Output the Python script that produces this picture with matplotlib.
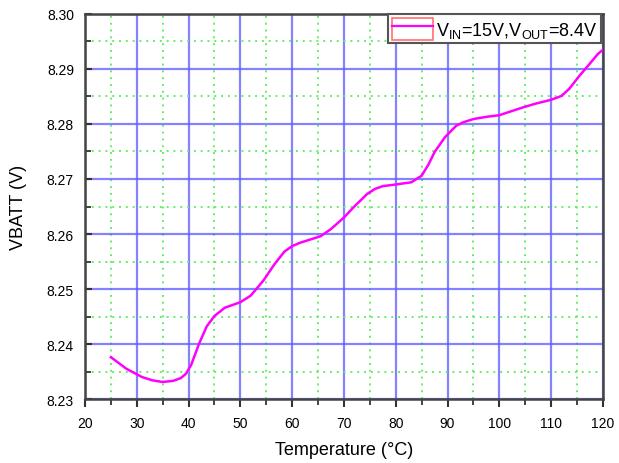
import matplotlib
matplotlib.use('Agg')
import matplotlib.pyplot as plt
from matplotlib.lines import Line2D
from matplotlib.patches import Patch
from matplotlib.ticker import MultipleLocator, FormatStrFormatter

# ── Data ──────────────────────────────────────────────────────────
temps = [25, 28, 31, 33, 35, 37, 38.5, 39.5, 40.5, 42, 43.5, 45, 47, 50,
         52, 54.5, 56.5, 58.5, 60, 61.5, 63.5, 65.5, 67.5, 70, 72, 74.5,
         76, 77.5, 80, 83, 85, 86.3, 87.5, 89.5, 91.7, 93, 95, 97.5, 100,
         104.5, 107, 110, 112, 113.5, 115.5, 117.5, 119, 120]
vbatt = [8.2376, 8.2355, 8.2340, 8.2334, 8.2331, 8.2333, 8.2338, 8.2346,
         8.2362, 8.2400, 8.2432, 8.2451, 8.2466, 8.2476, 8.2488, 8.2516,
         8.2544, 8.2568, 8.2578, 8.2584, 8.2590, 8.2596, 8.2609, 8.2630,
         8.2650, 8.2673, 8.2682, 8.2687, 8.2690, 8.2694, 8.2706, 8.2726,
         8.2749, 8.2776, 8.2797, 8.2803, 8.2809, 8.2813, 8.2816, 8.2830,
         8.2837, 8.2844, 8.2851, 8.2864, 8.2888, 8.2910, 8.2927, 8.2935]
series_label = r'V$_{\mathrm{IN}}$=15V,V$_{\mathrm{OUT}}$=8.4V'

plt.rcParams['font.family'] = 'Liberation Sans'
plt.rcParams['mathtext.fontset'] = 'custom'
plt.rcParams['mathtext.rm'] = 'Liberation Sans'

fig = plt.figure(figsize=(6.19, 4.64), dpi=100)
ax = fig.add_axes([0.1373, 0.1379, 0.8367, 0.8298])

ax.plot(temps, vbatt, color='#ff00ff', linewidth=1.8, zorder=3,
        solid_joinstyle='round')

ax.set_xlim(20, 120)
ax.set_ylim(8.23, 8.30)
ax.xaxis.set_major_locator(MultipleLocator(10))
ax.xaxis.set_minor_locator(MultipleLocator(5))
ax.yaxis.set_major_locator(MultipleLocator(0.01))
ax.yaxis.set_minor_locator(MultipleLocator(0.005))
ax.yaxis.set_major_formatter(FormatStrFormatter('%.2f'))

# grid: blue major, green dotted minor
ax.grid(which='major', color='#5a5aff', linewidth=1.6, alpha=0.75, zorder=1)
ax.grid(which='minor', color='#66ee66', linewidth=1.4, linestyle=(0, (1, 2.5)), zorder=1)
ax.set_axisbelow(True)

for s in ax.spines.values():
    s.set_color('#444444')
    s.set_linewidth(1.8)

ax.tick_params(axis='x', which='major', direction='out', length=6, width=1.5,
               labelsize=10, color='#333333', pad=6)
ax.tick_params(axis='x', which='minor', direction='out', length=4, width=1.3, color='#333333')
ax.tick_params(axis='y', which='major', direction='in', length=5, width=1.5,
               labelsize=10, color='#333333', pad=8)
ax.tick_params(axis='y', which='minor', direction='in', length=4, width=1.3, color='#333333')

ax.set_xlabel('Temperature (°C)', fontsize=13, labelpad=8)
ax.set_ylabel('VBATT (V)', fontsize=13, labelpad=14)

# Origin-style legend handle: pink box with magenta line through it
h_box = Patch(facecolor='none', edgecolor='#ff7070', linewidth=1.2)
h_line = Line2D([], [], color='#ff00ff', linewidth=1.6)
leg = ax.legend([(h_box, h_line)], [series_label], loc='upper right',
                bbox_to_anchor=(0.997, 1.0), fontsize=13, frameon=True,
                fancybox=False, borderpad=0.2, handlelength=2.3,
                handleheight=1.5, handletextpad=0.15, borderaxespad=0)
leg.get_frame().set_edgecolor('#555555')
leg.get_frame().set_linewidth(1.5)
leg.get_frame().set_alpha(1)

fig.savefig('out.png', dpi=100)
